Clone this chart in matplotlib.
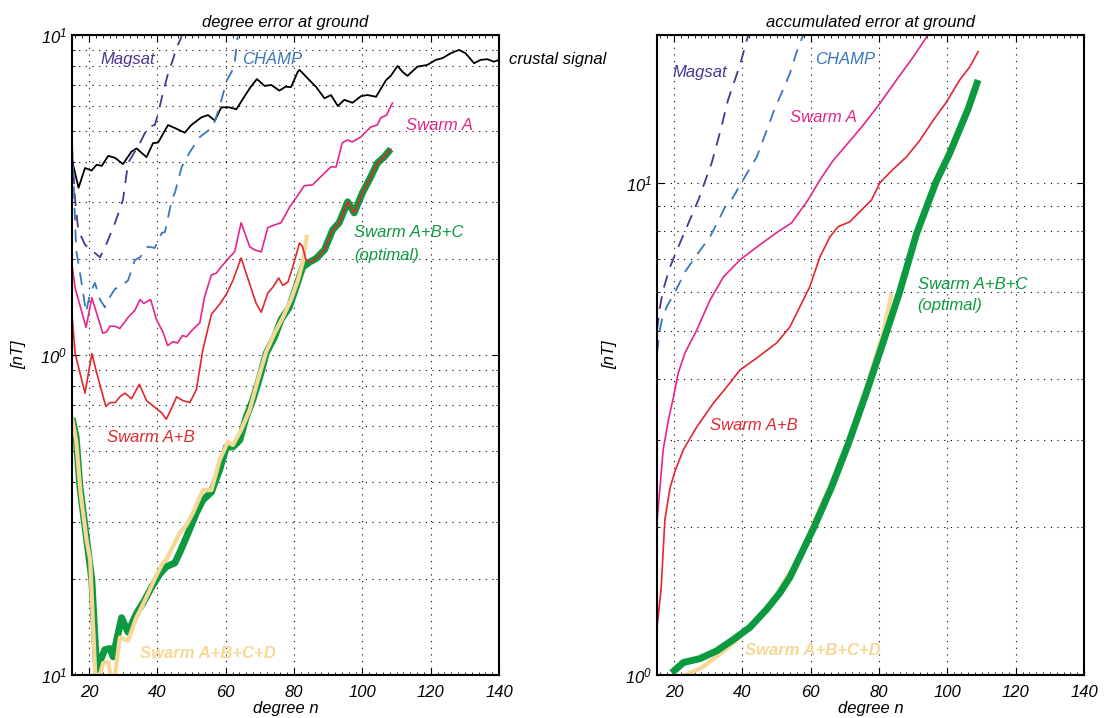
import matplotlib
matplotlib.use('agg')
import matplotlib.pyplot as plt
from matplotlib.ticker import MultipleLocator, LogLocator, NullFormatter

plt.rcParams['font.family'] = ['Liberation Sans', 'DejaVu Sans']
plt.rcParams['font.style'] = 'italic'
plt.rcParams['mathtext.fontset'] = 'custom'
plt.rcParams['mathtext.rm'] = 'Liberation Sans:italic'
plt.rcParams['mathtext.it'] = 'Liberation Sans:italic'

C_MAGSAT = '#4b3591'
C_CHAMP = '#3a77b8'
C_A = '#e5258b'
C_AB = '#e2272d'
C_ABC = '#0b9a3f'
C_ABCD = '#f6d795'

# ---- left panel: degree error at ground ----
crust_n = [15, 16.9, 18.8, 20.7, 22.2, 23.7, 25.6, 27.6, 29.9, 32.4, 33.9, 36.8, 38.7, 40.2,
           43.1, 45.1, 48, 49.9, 52.9, 54.8, 56.8, 58.7, 61.1, 63.1, 67, 69.1, 71.4, 73.3,
           75.7, 77.5, 79.1, 81.1, 81.6, 84.5, 86.4, 88.9, 90.8, 92.8, 94.7, 97.1, 99.6,
           101.5, 104, 106.9, 108.3, 110.3, 111.7, 113.2, 116.1, 119, 121.5, 123.4, 125.9,
           128.3, 130.2, 132.7, 134.6, 136.6, 138.5, 140]
crust_v = [4.06, 3.33, 3.84, 3.77, 3.93, 3.90, 4.19, 4.13, 3.95, 4.32, 4.42, 4.15, 4.59, 4.61,
           5.23, 5.12, 4.95, 5.23, 5.53, 5.62, 5.40, 5.94, 5.94, 5.86, 6.81, 7.28, 6.93, 6.98,
           6.70, 6.89, 6.87, 7.68, 7.78, 7.22, 6.89, 6.34, 6.49, 6.00, 6.27, 6.14, 6.44,
           6.49, 6.41, 7.22, 7.45, 8.00, 7.68, 7.45, 7.96, 8.06, 8.36, 8.46, 8.77,
           8.98, 8.77, 8.16, 8.36, 8.40, 8.25, 8.36]

magsat_n = [15, 15.9, 16.8, 18.8, 20.3, 23.2, 25.2, 27.6, 29.9, 31.4, 34.9, 37.2, 39.2, 40.1,
            41.6, 43, 44.5, 45.7, 47.1]
magsat_v = [4.37, 3.05, 2.46, 2.21, 2.14, 2.02, 2.24, 2.59, 3.05, 3.98, 4.60, 5.16, 5.23, 5.62,
            6.59, 7.5, 8.36, 9.17, 9.9]

champ_n = [15, 16.2, 17.8, 19.1, 20.3, 21.7, 23.2, 24.6, 26.1, 27.6, 29, 31.4, 33.4, 34.9,
           37.2, 39.2, 41.3, 42.2, 44.2, 45.1, 47.1, 49.5, 52.4, 54.4, 56.2, 58.2, 60.3,
           61.7, 62.6, 63.5]
champ_v = [4.6, 2.13, 1.68, 1.36, 1.56, 1.68, 1.49, 1.41, 1.52, 1.61, 1.63, 1.71, 1.98, 2.02,
           2.18, 2.16, 2.41, 2.42, 3.05, 3.21, 3.87, 4.31, 4.80, 4.98, 5.16, 5.96, 7.22,
           7.66, 8.18, 9.9]

swA_n = [15, 15.9, 19.1, 20.8, 22.2, 24, 25.1, 26.1, 27.6, 29, 31.4, 33.4, 34.9, 36, 38,
         39.7, 41.6, 43, 44.5, 45.9, 47.3, 48.5, 50.3, 52.4, 53.8, 55.8, 57.2, 59.1, 61.1,
         62.6, 64.5, 67, 68.4, 70.4, 72.3, 74.3, 76.2, 78.7, 80.6, 83, 85.4, 86.8, 88.3,
         90.8, 92.3, 94.1, 95.6, 97, 99.6, 101, 102.5, 104.3, 105.4, 107.1, 107.8, 108.8]
swA_v = [1.91, 1.62, 1.22, 1.51, 1.35, 1.17, 1.18, 1.23, 1.23, 1.21, 1.31, 1.38, 1.49, 1.45,
         1.49, 1.29, 1.18, 1.07, 1.10, 1.09, 1.15, 1.14, 1.20, 1.26, 1.52, 1.78, 1.80, 1.91,
         2.02, 2.10, 2.59, 2.18, 2.13, 2.10, 2.50, 2.55, 2.59, 2.90, 3.10, 3.38, 3.40, 3.52,
         3.65, 3.87, 3.87, 4.60, 4.70, 4.63, 4.80, 4.98, 5.16, 5.23, 5.51, 5.62, 5.83, 6.13]

swAB_n = [15, 15.9, 18.8, 20.8, 22.2, 24.9, 26.1, 27.6, 29, 30.5, 32.4, 34.7, 36.8, 39.7,
          41.2, 42.6, 44.1, 45.6, 47.5, 49.5, 51.4, 53.3, 55.8, 58.2, 60.2, 62.1, 64.5,
          66.5, 68.9, 70.4, 72.3, 73.8, 75.5, 76.7, 78.2, 79.6, 81.6, 82.5, 83.5, 85, 86.4,
          88.9, 91.3, 93.2, 95.7, 97.6, 100, 102, 104.4, 106.4, 108.3]
swAB_v = [1.33, 1.01, 0.76, 1.01, 0.88, 0.69, 0.71, 0.71, 0.74, 0.76, 0.73, 0.81, 0.72, 0.68,
          0.66, 0.63, 0.68, 0.74, 0.72, 0.71, 0.78, 1.04, 1.34, 1.44, 1.55, 1.71, 2.01,
          1.73, 1.45, 1.36, 1.56, 1.63, 1.74, 1.65, 1.69, 1.88, 2.24, 2.18, 1.98, 1.95, 2.0,
          2.13, 2.46, 2.59, 3.01, 2.78, 3.21, 3.52, 3.98, 4.16, 4.40]

swABC_n = [15, 16.2, 17.3, 19.3, 20.8, 22.2, 24.6, 26.1, 27, 29.5, 31.4, 33.9, 35.8, 38.3,
           40.7, 42.6, 45.1, 46.5, 48.5, 51.4, 53.3, 55.8, 58.2, 60.2, 62.1, 64.1, 66,
           67.9, 69.9, 71.8, 74.3, 76.2, 78.6, 80.6, 82.5, 84.5, 86.4, 88.9, 91.3, 93.2,
           95.7, 97.6, 100, 102, 104.4, 106.4, 108.3]
swABC_v = [0.635, 0.554, 0.387, 0.264, 0.198, 0.104, 0.120, 0.121, 0.114, 0.151, 0.136, 0.156,
           0.168, 0.188, 0.207, 0.218, 0.224, 0.241, 0.270, 0.321, 0.352, 0.373, 0.438,
           0.516, 0.516, 0.542, 0.640, 0.723, 0.848, 1.01, 1.14, 1.29, 1.41, 1.63, 1.88,
           1.95, 2.0, 2.13, 2.46, 2.59, 3.01, 2.78, 3.21, 3.52, 3.98, 4.16, 4.40]

swABCD_n = [15, 16.2, 17.5, 19.3, 20.3, 22, 24.1, 25.6, 27, 29, 31.4, 33.9, 35.4, 37.3,
            39.7, 41.7, 42.6, 46.5, 48.5, 50.4, 53.3, 55.8, 58.2, 60.6, 62.1, 64.5, 67,
            69.4, 71.8, 74.3, 76.7, 79.1, 81.1, 82.5, 83.7]
swABCD_v = [0.635, 0.540, 0.370, 0.262, 0.229, 0.09, 0.109, 0.110, 0.09, 0.131, 0.128, 0.152,
            0.163, 0.180, 0.205, 0.225, 0.229, 0.278, 0.294, 0.321, 0.378, 0.378, 0.469,
            0.535, 0.523, 0.583, 0.673, 0.835, 1.02, 1.17, 1.31, 1.49, 1.71, 1.94, 2.34]

# ---- right panel: accumulated error at ground ----
acc_magsat_n = [15, 15.7, 16.8, 18.8, 21.2, 24.2, 27.1, 31, 33.4, 35.8, 39.3, 41.7]
acc_magsat_v = [5.02, 5.52, 6.07, 6.75, 7.41, 8.29, 9.24, 10.99, 12.65, 14.76, 17.4, 20]

acc_champ_n = [15, 15.7, 16.4, 17.8, 20.3, 23.2, 26.6, 30.5, 34.9, 36.8, 40.2, 44.2, 47.1,
               49, 53.9, 55.8, 57.8]
acc_champ_v = [4.52, 4.98, 5.27, 5.60, 6.01, 6.60, 7.14, 7.77, 8.93, 9.24, 10.15, 11.3, 12.8,
               13.9, 16.7, 18.4, 20]

acc_A_n = [15, 16.8, 18.3, 19.8, 21.2, 23.2, 26.6, 30.5, 34.4, 39.3, 44.2, 49.9, 54.4, 59.2,
           62.7, 66.5, 72.4, 75.3, 80.2, 85.1, 89.9, 94.3]
acc_A_v = [2.05, 2.87, 3.29, 3.67, 4.11, 4.52, 5.02, 5.78, 6.44, 6.98, 7.41, 7.92, 8.30, 9.24,
           10.15, 11.1, 12.4, 13.1, 14.5, 16.2, 18.0, 20]

acc_AB_n = [15, 16.2, 17.3, 18.8, 20.3, 22.7, 26.6, 31.5, 35.4, 39.3, 44.2, 50, 53.9, 56.8,
            59.7, 62.7, 65.6, 68, 71.4, 77.8, 80.2, 83.1, 88, 91.9, 95.8, 99.7, 103.6, 106.5,
            109]
acc_AB_v = [1.25, 1.5, 2.07, 2.4, 2.6, 2.87, 3.19, 3.57, 3.85, 4.17, 4.41, 4.73, 5.10, 5.60,
            6.15, 7.08, 7.77, 8.15, 8.34, 9.24, 10.0, 10.5, 11.3, 12.2, 13.4, 14.6, 16.2, 17.2,
            18.5]

acc_ABC_n = [19.3, 22.7, 27.6, 32.5, 37.3, 42.2, 47.1, 51, 53.9, 56.3, 61, 66, 71, 76, 81,
             86, 91, 96.8, 100.7, 106, 109]
acc_ABC_v = [1.01, 1.06, 1.08, 1.12, 1.18, 1.25, 1.36, 1.47, 1.58, 1.71, 2.0, 2.4, 2.95, 3.7,
             4.7, 6.0, 7.9, 10.1, 11.5, 14.1, 16.2]

acc_ABCD_n = [23.2, 27.6, 32.5, 37.3, 42.2, 48, 52.9, 56.8, 61, 66, 71, 76, 81, 83.5]
acc_ABCD_v = [1.0, 1.03, 1.09, 1.16, 1.25, 1.37, 1.58, 1.71, 2.05, 2.45, 3.0, 3.8, 4.9, 5.9]

xticks = [20, 40, 60, 80, 100, 120, 140]

fig = plt.figure(figsize=(11.05, 7.18), dpi=100)
axL = fig.add_axes([0.0652, 0.0599, 0.3864, 0.8914])
axR = fig.add_axes([0.5946, 0.0599, 0.3864, 0.8914])

dash = (0, (7, 5))

axL.plot(crust_n, crust_v, color='black', lw=1.3)
axL.plot(magsat_n, magsat_v, color=C_MAGSAT, lw=1.3, linestyle=dash)
axL.plot(champ_n, champ_v, color=C_CHAMP, lw=1.3, linestyle=dash)
axL.plot(swA_n, swA_v, color=C_A, lw=1.2)
axL.plot(swABC_n, swABC_v, color=C_ABC, lw=5, solid_capstyle='butt')
axL.plot(swABCD_n, swABCD_v, color=C_ABCD, lw=3)
axL.plot(swAB_n, swAB_v, color=C_AB, lw=1.2)

axR.plot(acc_magsat_n, acc_magsat_v, color=C_MAGSAT, lw=1.3, linestyle=dash)
axR.plot(acc_champ_n, acc_champ_v, color=C_CHAMP, lw=1.3, linestyle=dash)
axR.plot(acc_A_n, acc_A_v, color=C_A, lw=1.2)
axR.plot(acc_AB_n, acc_AB_v, color=C_AB, lw=1.2)
axR.plot(acc_ABCD_n, acc_ABCD_v, color=C_ABCD, lw=3)
axR.plot(acc_ABC_n, acc_ABC_v, color=C_ABC, lw=5, solid_capstyle='butt')

fs = 12
for ax in (axL, axR):
    ax.set_yscale('log')
    ax.set_xlim(15, 140)
    ax.set_xticks(xticks)
    ax.xaxis.set_minor_locator(MultipleLocator(2))
    ax.yaxis.set_minor_locator(LogLocator(base=10, subs=range(2, 10)))
    ax.yaxis.set_minor_formatter(NullFormatter())
    ax.tick_params(which='both', direction='in', top=True, right=True, labelsize=fs)
    ax.tick_params(which='major', length=5, width=0.8)
    ax.tick_params(which='minor', length=2.5, width=0.6)
    ax.tick_params(axis='x', which='major', pad=7)
    ax.grid(True, which='major', axis='x', color='black', linestyle=(0, (1, 5)), lw=0.8)
    ax.grid(True, which='both', axis='y', color='black', linestyle=(0, (1, 5)), lw=0.8)
    for s in ax.spines.values():
        s.set_linewidth(1.5)
    ax.set_xlabel('degree n', fontsize=fs, labelpad=1)
    ax.set_ylabel('[nT]', fontsize=fs)

axL.set_ylim(0.1, 10)
axL.set_yticks([0.1, 1, 10])
axL.set_yticklabels(['$10^1$', '$10^0$', '$10^1$'])
axL.set_title('degree error at ground', fontsize=fs, pad=6)
axL.yaxis.set_label_coords(-0.108, 0.5)

axR.set_ylim(1, 20)
axR.set_yticks([1, 10])
axR.set_yticklabels(['$10^0$', '$10^1$'])
axR.set_title('accumulated error at ground', fontsize=fs, pad=6)
axR.yaxis.set_label_coords(-0.093, 0.5)

# curve labels
axL.text(23.2, 8.36, 'Magsat', color=C_MAGSAT, fontsize=fs, va='center')
axL.text(64.9, 8.36, 'CHAMP', color=C_CHAMP, fontsize=fs, va='center')
axL.text(142.9, 8.36, 'crustal signal', color='black', fontsize=fs, va='center', clip_on=False)
axL.text(112.8, 5.23, 'Swarm A', color=C_A, fontsize=fs, va='center')
axL.text(97.6, 2.41, 'Swarm A+B+C', color=C_ABC, fontsize=fs, va='center')
axL.text(97.6, 2.05, '(optimal)', color=C_ABC, fontsize=fs, va='center')
axL.text(25.2, 0.551, 'Swarm A+B', color=C_AB, fontsize=fs, va='center')
axL.text(34.9, 0.117, 'Swarm A+B+C+D', color=C_ABCD, fontsize=fs, va='center', weight='bold')

axR.text(19.4, 16.8, 'Magsat', color=C_MAGSAT, fontsize=fs, va='center')
axR.text(61.2, 17.8, 'CHAMP', color=C_CHAMP, fontsize=fs, va='center')
axR.text(53.9, 13.6, 'Swarm A', color=C_A, fontsize=fs, va='center')
axR.text(30.5, 3.22, 'Swarm A+B', color=C_AB, fontsize=fs, va='center')
axR.text(91.3, 6.21, 'Swarm A+B+C', color=C_ABC, fontsize=fs, va='center')
axR.text(91.3, 5.65, '(optimal)', color=C_ABC, fontsize=fs, va='center')
axR.text(40.7, 1.12, 'Swarm A+B+C+D', color=C_ABCD, fontsize=fs, va='center', weight='bold')

fig.savefig('out.png', dpi=100)
